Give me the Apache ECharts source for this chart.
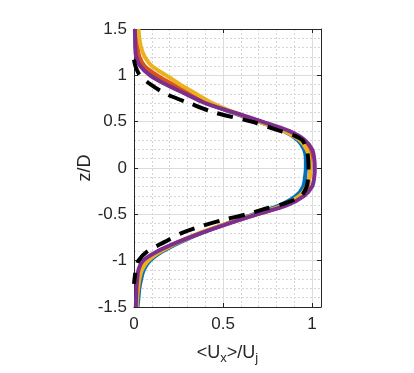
<!DOCTYPE html>
<html>
<head>
<meta charset="utf-8">
<script src="https://cdn.jsdelivr.net/npm/echarts@6/dist/echarts.min.js"></script>
<style>
  html, body { margin: 0; padding: 0; background: #fff; }
  #chart { width: 414px; height: 373px; }
</style>
</head>
<body>
<div id="chart"></div>
<script>
  // vertical positions z/D shared by the coloured profiles
  var zLevels = [1.5, 1.4, 1.3, 1.2, 1.1, 1.0, 0.9, 0.8, 0.7, 0.6, 0.5, 0.4, 0.3, 0.2, 0.1, 0.0,
    -0.1, -0.2, -0.3, -0.4, -0.5, -0.6, -0.7, -0.8, -0.9, -1.0, -1.1, -1.2, -1.3, -1.4, -1.5];

  // <Ux>/Uj, one array per profile
  var uBlue = [0.008, 0.01, 0.012, 0.02, 0.045, 0.11, 0.20, 0.30, 0.41, 0.55, 0.70, 0.84, 0.92, 0.955, 0.965, 0.965,
    0.96, 0.95, 0.91, 0.82, 0.67, 0.52, 0.38, 0.26, 0.16, 0.09, 0.055, 0.04, 0.03, 0.025, 0.02];
  var uOrange = [0.012, 0.015, 0.02, 0.03, 0.06, 0.13, 0.22, 0.32, 0.42, 0.56, 0.71, 0.85, 0.94, 0.98, 0.99, 0.99,
    0.985, 0.975, 0.935, 0.85, 0.69, 0.525, 0.375, 0.25, 0.145, 0.07, 0.04, 0.03, 0.025, 0.015, 0.012];
  var uYellow = [0.025, 0.03, 0.04, 0.06, 0.10, 0.18, 0.26, 0.35, 0.44, 0.56, 0.70, 0.84, 0.93, 0.97, 0.985, 0.99,
    0.985, 0.97, 0.93, 0.84, 0.68, 0.52, 0.37, 0.25, 0.15, 0.08, 0.045, 0.03, 0.022, 0.018, 0.015];
  var uPurple = [0.005, 0.006, 0.007, 0.012, 0.035, 0.09, 0.18, 0.29, 0.40, 0.56, 0.72, 0.87, 0.96, 1.0, 1.012, 1.015,
    1.012, 1.0, 0.955, 0.86, 0.69, 0.53, 0.38, 0.245, 0.13, 0.05, 0.025, 0.018, 0.014, 0.012, 0.01];

  // reference profile (black dashed)
  var dashZ = [1.17, 1.1, 1.0, 0.9, 0.8, 0.7, 0.6, 0.5, 0.4, 0.35, 0.3, 0.2, 0.1, 0.0, -0.1, -0.2, -0.3,
    -0.38, -0.45, -0.5, -0.56, -0.62, -0.7, -0.8, -0.9, -1.0, -1.1, -1.25];
  var dashU = [0.0, 0.008, 0.033, 0.095, 0.18, 0.31, 0.45, 0.66, 0.82, 0.90, 0.945, 0.97, 0.978, 0.98, 0.978, 0.97, 0.94,
    0.85, 0.72, 0.63, 0.50, 0.39, 0.27, 0.17, 0.075, 0.025, 0.01, 0.0];

  var profiles = [
    {u: uBlue, color: '#0072BD'},
    {u: uOrange, color: '#D95319'},
    {u: uYellow, color: '#EDB120'},
    {u: uPurple, color: '#7E2F8E'}
  ];

  var axisColor = '#262626';
  var fontFamily = '"Liberation Sans", Arial, Helvetica, sans-serif';

  var chart = echarts.init(document.getElementById('chart'), null, {renderer: 'canvas'});

  var series = [];
  profiles.forEach(function (p) {
    series.push({
      type: 'line',
      xAxisIndex: 0,
      yAxisIndex: 0,
      data: zLevels.map(function (z, i) { return [p.u[i], z]; }),
      symbol: 'none',
      smooth: 0.3,
      lineStyle: {color: p.color, width: 4},
      z: 3
    });
  });
  series.push({
    type: 'line',
    xAxisIndex: 0,
    yAxisIndex: 0,
    data: dashZ.map(function (z, i) { return [dashU[i], z]; }),
    symbol: 'none',
    smooth: 0.3,
    lineStyle: {color: '#000', width: 4, type: [16, 10]},
    z: 4
  });

  var boxAxis = {
    axisLine: {show: true, onZero: false, lineStyle: {color: axisColor, width: 1}},
    axisTick: {show: true, inside: true, length: 4, lineStyle: {color: axisColor}},
    axisLabel: {show: false},
    splitLine: {show: false}
  };

  var option = {
    animation: false,
    backgroundColor: '#fff',
    grid: {left: 134, right: 93, top: 29, bottom: 66},
    xAxis: [{
      type: 'value',
      min: 0,
      max: 1.05,
      interval: 0.5,
      position: 'bottom',
      name: '<U{sub|x}>/U{sub|j}',
      nameLocation: 'middle',
      nameGap: 34,
      nameTextStyle: {
        color: axisColor, fontSize: 18, fontFamily: fontFamily,
        rich: {sub: {fontSize: 13, fontFamily: fontFamily, color: axisColor, padding: [11, 0, 0, 0]}}
      },
      axisLine: {show: true, onZero: false, lineStyle: {color: axisColor, width: 1}},
      axisTick: {show: true, inside: true, length: 4, lineStyle: {color: axisColor}},
      axisLabel: {color: axisColor, fontSize: 17, fontFamily: fontFamily, margin: 9, showMaxLabel: false},
      splitLine: {show: true, lineStyle: {color: '#dcdcdc', width: 1}},
      minorTick: {show: false, splitNumber: 5},
      minorSplitLine: {show: true, lineStyle: {color: '#d6d6d6', width: 1, type: [2, 2]}}
    }, Object.assign({
      type: 'value', min: 0, max: 1.05, interval: 0.5, position: 'top'
    }, boxAxis)],
    yAxis: [{
      type: 'value',
      min: -1.5,
      max: 1.5,
      interval: 0.5,
      position: 'left',
      name: 'z/D',
      nameLocation: 'middle',
      nameGap: 40,
      nameTextStyle: {color: axisColor, fontSize: 18, fontFamily: fontFamily},
      axisLine: {show: true, onZero: false, lineStyle: {color: axisColor, width: 1}},
      axisTick: {show: true, inside: true, length: 4, lineStyle: {color: axisColor}},
      axisLabel: {color: axisColor, fontSize: 17, fontFamily: fontFamily, margin: 7},
      splitLine: {show: true, lineStyle: {color: '#dcdcdc', width: 1}},
      minorTick: {show: false, splitNumber: 5},
      minorSplitLine: {show: true, lineStyle: {color: '#d6d6d6', width: 1, type: [2, 2]}}
    }, Object.assign({
      type: 'value', min: -1.5, max: 1.5, interval: 0.5, position: 'right'
    }, boxAxis)],
    series: series
  };

  chart.setOption(option);
</script>
</body>
</html>
